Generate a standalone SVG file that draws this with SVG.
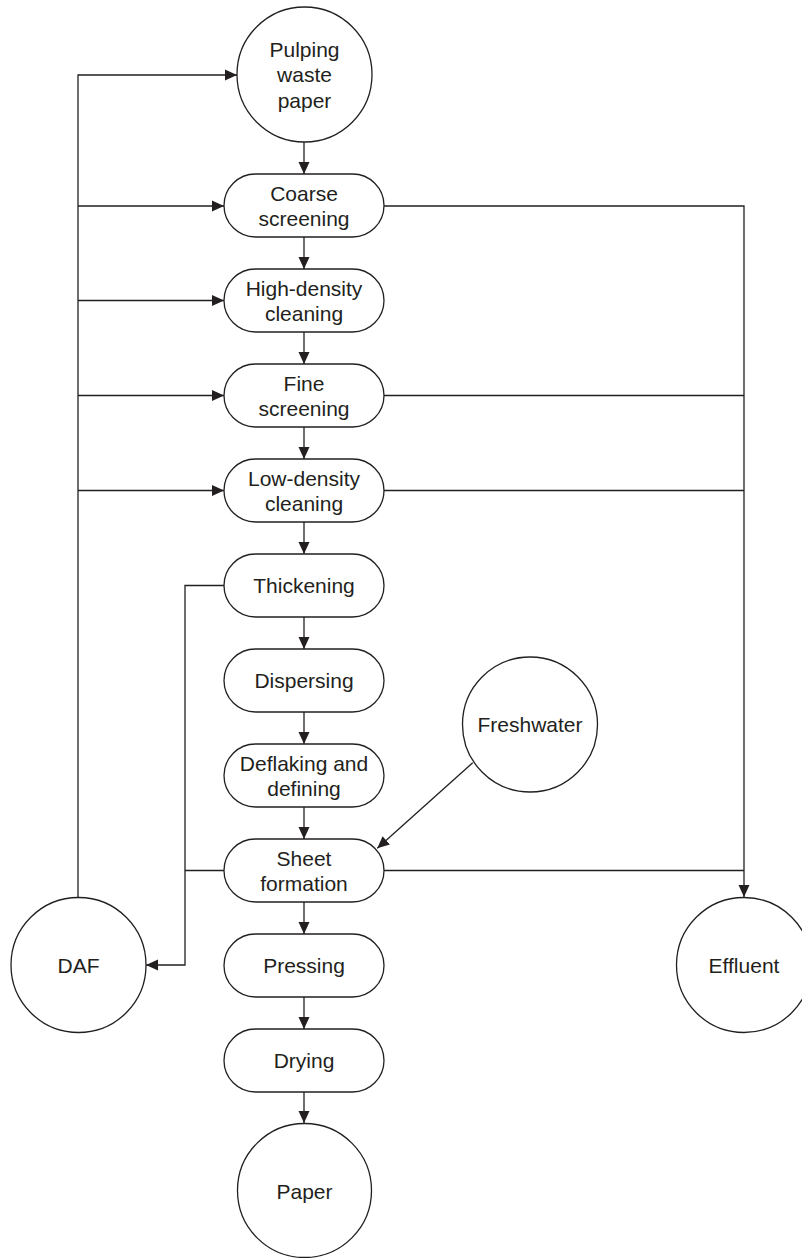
<svg xmlns="http://www.w3.org/2000/svg" width="802" height="1258" viewBox="0 0 802 1258">
<defs>
<style>
.n{fill:#fff;stroke:#231f20;stroke-width:1.3}
.t{font-family:"Liberation Sans",Arial,sans-serif;font-size:21px;fill:#231f20;text-anchor:middle}
.c{fill:none;stroke:#231f20;stroke-width:1.3}
</style>
<marker id="ah" viewBox="0 0 12 12" refX="12" refY="6" markerWidth="12" markerHeight="12" markerUnits="userSpaceOnUse" orient="auto">
<path d="M0,0.5 L12,6 L0,11.5 z" fill="#231f20"/>
</marker>
</defs>
<rect width="802" height="1258" fill="#fff"/>
<g id="connectors">
<path class="c" d="M78,897 V75 H237" marker-end="url(#ah)"/>
<path class="c" d="M78,206 H224" marker-end="url(#ah)"/>
<path class="c" d="M78,300.5 H224" marker-end="url(#ah)"/>
<path class="c" d="M78,395.5 H224" marker-end="url(#ah)"/>
<path class="c" d="M78,490.5 H224" marker-end="url(#ah)"/>
<path class="c" d="M304,142 V174" marker-end="url(#ah)"/>
<path class="c" d="M304,237 V269" marker-end="url(#ah)"/>
<path class="c" d="M304,332 V364" marker-end="url(#ah)"/>
<path class="c" d="M304,427 V459" marker-end="url(#ah)"/>
<path class="c" d="M304,522 V554" marker-end="url(#ah)"/>
<path class="c" d="M304,617 V649" marker-end="url(#ah)"/>
<path class="c" d="M304,712 V744" marker-end="url(#ah)"/>
<path class="c" d="M304,807 V839" marker-end="url(#ah)"/>
<path class="c" d="M304,902 V934" marker-end="url(#ah)"/>
<path class="c" d="M304,997 V1029" marker-end="url(#ah)"/>
<path class="c" d="M304,1092 V1123" marker-end="url(#ah)"/>
<path class="c" d="M224,585.5 H185 V965 H146" marker-end="url(#ah)"/>
<path class="c" d="M224,870.5 H185"/>
<path class="c" d="M384,206 H744 V897" marker-end="url(#ah)"/>
<path class="c" d="M384,395.5 H744"/>
<path class="c" d="M384,490.5 H744"/>
<path class="c" d="M384,870.5 H744"/>
<path class="c" d="M472.7,762.7 L377.3,848.3" marker-end="url(#ah)"/>
</g>
<g id="pulping">
<circle class="n" cx="304.5" cy="74.5" r="67.5"/>
<text class="t" x="304.5" y="56.5">Pulping</text>
<text class="t" x="304.5" y="82">waste</text>
<text class="t" x="304.5" y="107.5">paper</text>
</g>
<g id="coarse">
<rect class="n" x="224" y="174" width="160" height="63" rx="31.5"/>
<text class="t" x="304" y="200.5">Coarse</text>
<text class="t" x="304" y="226">screening</text>
</g>
<g id="highdensity">
<rect class="n" x="224" y="269" width="160" height="63" rx="31.5"/>
<text class="t" x="304" y="295.5">High-density</text>
<text class="t" x="304" y="321">cleaning</text>
</g>
<g id="fine">
<rect class="n" x="224" y="364" width="160" height="63" rx="31.5"/>
<text class="t" x="304" y="390.5">Fine</text>
<text class="t" x="304" y="416">screening</text>
</g>
<g id="lowdensity">
<rect class="n" x="224" y="459" width="160" height="63" rx="31.5"/>
<text class="t" x="304" y="485.5">Low-density</text>
<text class="t" x="304" y="511">cleaning</text>
</g>
<g id="thickening">
<rect class="n" x="224" y="554" width="160" height="63" rx="31.5"/>
<text class="t" x="304" y="593">Thickening</text>
</g>
<g id="dispersing">
<rect class="n" x="224" y="649" width="160" height="63" rx="31.5"/>
<text class="t" x="304" y="688">Dispersing</text>
</g>
<g id="deflaking">
<rect class="n" x="224" y="744" width="160" height="63" rx="31.5"/>
<text class="t" x="304" y="770.5">Deflaking and</text>
<text class="t" x="304" y="796">defining</text>
</g>
<g id="sheet">
<rect class="n" x="224" y="839" width="160" height="63" rx="31.5"/>
<text class="t" x="304" y="865.5">Sheet</text>
<text class="t" x="304" y="891">formation</text>
</g>
<g id="pressing">
<rect class="n" x="224" y="934" width="160" height="63" rx="31.5"/>
<text class="t" x="304" y="973">Pressing</text>
</g>
<g id="drying">
<rect class="n" x="224" y="1029" width="160" height="63" rx="31.5"/>
<text class="t" x="304" y="1068">Drying</text>
</g>
<g id="paper">
<circle class="n" cx="304.5" cy="1190.5" r="67"/>
<text class="t" x="304.5" y="1198.5">Paper</text>
</g>
<g id="freshwater">
<circle class="n" cx="530" cy="724.5" r="67.5"/>
<text class="t" x="530" y="732">Freshwater</text>
</g>
<g id="daf">
<circle class="n" cx="78.5" cy="965" r="67.5"/>
<text class="t" x="78.5" y="972.5">DAF</text>
</g>
<g id="effluent">
<circle class="n" cx="744" cy="965" r="67.5"/>
<text class="t" x="744" y="972.5">Effluent</text>
</g>
</svg>
